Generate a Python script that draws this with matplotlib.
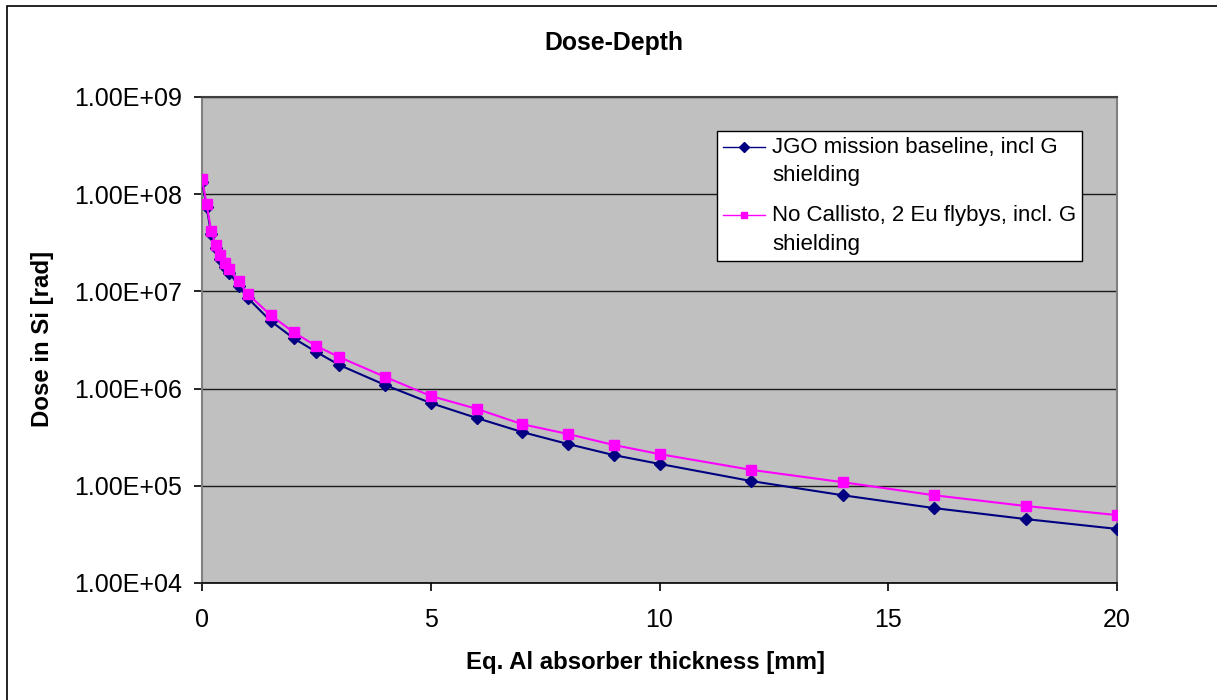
import matplotlib
matplotlib.use("Agg")
import matplotlib.pyplot as plt
from matplotlib.patches import Rectangle
from matplotlib.ticker import FuncFormatter, FixedLocator
from matplotlib.legend_handler import HandlerLine2D

plt.rcParams['font.family'] = ['Liberation Sans', 'DejaVu Sans']

# absorber thickness [mm]
thickness = [0, 0.1, 0.2, 0.3, 0.4, 0.5, 0.6, 0.8, 1, 1.5, 2, 2.5, 3, 4, 5,
             6, 7, 8, 9, 10, 12, 14, 16, 18, 20]
# dose [rad]
dose_baseline = [1.35e8, 7.4e7, 3.9e7, 2.8e7, 2.15e7, 1.8e7, 1.55e7, 1.15e7,
                 8.55e6, 4.96e6, 3.3e6, 2.38e6, 1.75e6, 1.09e6, 7.1e5,
                 4.99e5, 3.57e5, 2.69e5, 2.07e5, 1.68e5, 1.12e5, 8.0e4,
                 5.9e4, 4.55e4, 3.6e4]
dose_no_callisto = [1.43e8, 7.9e7, 4.2e7, 3.0e7, 2.35e7, 1.97e7, 1.69e7, 1.27e7,
                    9.4e6, 5.7e6, 3.8e6, 2.74e6, 2.11e6, 1.32e6, 8.4e5,
                    6.2e5, 4.3e5, 3.41e5, 2.63e5, 2.12e5, 1.46e5, 1.09e5,
                    8.0e4, 6.2e4, 5.0e4]
x_ticks = [0, 5, 10, 15, 20]
y_ticks = [1e4, 1e5, 1e6, 1e7, 1e8, 1e9]


class TopLineHandler(HandlerLine2D):
    # put the legend symbol next to the first text line, like Excel does
    def create_artists(self, legend, orig_handle, xdescent, ydescent,
                       width, height, fontsize, trans):
        artists = super().create_artists(legend, orig_handle, xdescent, ydescent,
                                         width, height, fontsize, trans)
        for a in artists:
            a.set_ydata([y + 11.0 for y in a.get_ydata()])
        return artists


W, H = 1217, 700
fig = plt.figure(figsize=(W / 100, H / 100), dpi=100)
fig.patch.set_facecolor('white')

# outer chart border
fig.patches.append(Rectangle((7 / W, -0.05), 1.2, 1 - 6 / H + 0.05,
                             transform=fig.transFigure, fill=False,
                             edgecolor='black', linewidth=1.2))

ax = fig.add_axes([202 / W, 1 - 583 / H, (1117 - 202) / W, (583 - 97) / H])
ax.set_facecolor('#C0C0C0')

ax.plot(thickness, dose_baseline, color='#000080', marker='D', markersize=6,
        linewidth=1.5, label='JGO mission baseline, incl G\nshielding', zorder=3)
ax.plot(thickness, dose_no_callisto, color='#FF00FF', marker='s', markersize=7,
        linewidth=1.5, label='No Callisto, 2 Eu flybys, incl. G\nshielding', zorder=4)

ax.set_yscale('log')
ax.set_xlim(0, 20)
ax.set_ylim(1e4, 1e9)
ax.xaxis.set_major_locator(FixedLocator(x_ticks))
ax.yaxis.set_major_locator(FixedLocator(y_ticks))
ax.yaxis.set_minor_locator(FixedLocator([]))
ax.yaxis.set_major_formatter(FuncFormatter(lambda v, p: '{:.2E}'.format(v)))
ax.grid(axis='y', color='#1a1a1a', linewidth=1.0)
ax.set_axisbelow(True)

for s in ['left', 'right', 'top']:
    ax.spines[s].set_color('#808080')
    ax.spines[s].set_linewidth(1.5)
ax.spines['top'].set_color('#404040')
ax.spines['bottom'].set_color('black')
ax.spines['bottom'].set_linewidth(1.2)
ax.tick_params(axis='both', direction='out', length=6, width=1.2,
               labelsize=18, color='black')
ax.tick_params(axis='y', pad=8.5)
ax.tick_params(axis='x', pad=12)

fig.text(614 / W, 1 - 43 / H, 'Dose-Depth', fontsize=17.8, fontweight='bold',
         ha='center', va='center')
fig.text(646 / W, 1 - 662 / H, 'Eq. Al absorber thickness [mm]', fontsize=17.3,
         fontweight='bold', ha='center', va='center')
fig.text(43 / W, 1 - 339 / H, 'Dose in Si [rad]', fontsize=17.3,
         fontweight='bold', ha='center', va='center', rotation=90)

leg = ax.legend(loc='upper left', bbox_to_anchor=(717 / W, 1 - 131 / H),
                bbox_transform=fig.transFigure, fontsize=16, frameon=True,
                fancybox=False, edgecolor='black', framealpha=1,
                handlelength=1.9, borderpad=0.28, labelspacing=0.85,
                handletextpad=0.3, borderaxespad=0,
                handler_map={ln: TopLineHandler() for ln in ax.get_lines()})
leg.get_frame().set_linewidth(1.0)
for t in leg.get_texts():
    t.set_linespacing(1.45)
for h in leg.legend_handles:
    h.set_markersize(5)
    h.set_linewidth(1.0)

fig.savefig('out.png', dpi=100)
